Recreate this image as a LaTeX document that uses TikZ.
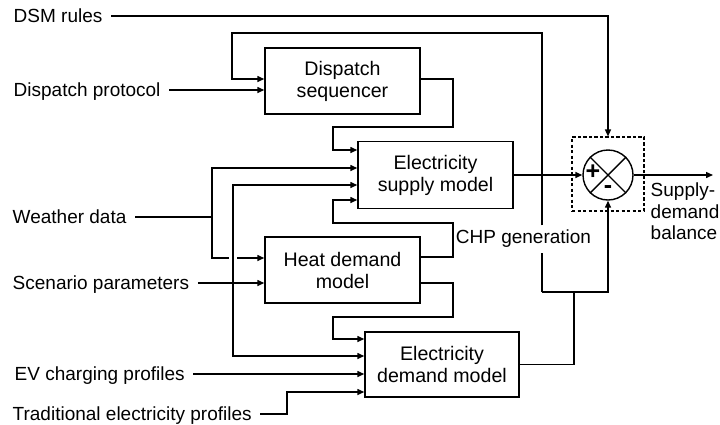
\documentclass[tikz,border=0pt]{standalone}
\usepackage{fontspec}
\setmainfont{Liberation Sans}
\usetikzlibrary{arrows.meta}
\begin{document}
\begin{tikzpicture}[x=1pt,y=-1pt,
  line width=1.4pt,
  every node/.style={font=\fontsize{19}{21.5}\selectfont},
  blk/.style={draw, align=center, minimum width=155pt, minimum height=66pt, inner sep=0pt, font=\fontsize{19.6}{22}\selectfont},
  lbl/.style={anchor=west, inner xsep=8pt, inner ysep=0pt, text height=13.7pt, text depth=0pt},
  arr/.style={-{Triangle[length=7pt,width=6pt]}},
  sign/.style={font=\fontsize{25}{25}\selectfont\bfseries, inner sep=0pt},
  dashbox/.style={draw, dash pattern=on 3.3pt off 2.2pt, line width=1.1pt, inner sep=0pt},
]
\useasboundingbox (0,0) rectangle (720,424);

% blocks
\node[blk] (seq) at (342.5,81) {Dispatch\\sequencer};
\node[blk, minimum height=67pt] (sup) at (435.5,175) {Electricity\\supply model};
\node[blk] (heat) at (342.5,270) {Heat demand\\model};
\node[blk, minimum width=154pt, minimum height=65pt] (edm) at (442,364.5) {Electricity\\demand model};

% summing junction
\node[dashbox, minimum width=72pt, minimum height=74pt] (dbox) at (608,174) {};
\node[draw, circle, minimum size=50pt, inner sep=0pt] (sum) at (608,175) {};
\draw (sum.45) -- (sum.225);
\draw (sum.135) -- (sum.315);
\node[sign] (plus) at (593,172) {+};
\node[sign] (minus) at (608,190) {-};

% input labels
\node[lbl] (dsm) at (5,16) {DSM rules};
\node[lbl] (dp) at (5,90) {Dispatch protocol};
\node[lbl] (wd) at (4,217) {Weather data};
\node[lbl] (sp) at (4,283) {Scenario parameters};
\node[lbl] (ev) at (6,374) {EV charging profiles};
\node[lbl] (tp) at (4,414) {Traditional electricity profiles};

% other labels
\node[anchor=north west, inner sep=0pt, align=left] (bal) at (650,182.5) {Supply-\\demand\\balance};
\node[inner xsep=2pt, inner ysep=4pt] (chp) at (523.5,239) {CHP generation};

% coordinates
\coordinate (chpj) at (542,292);
\coordinate (wj) at (212,217);
\coordinate (sj) at (233,283);
\coordinate (out) at (713,175);

% DSM rules
\draw[arr] (dsm.east) -| (dbox.north);
% Dispatch protocol
\draw[arr] (dp.east) -- (dp.east -| seq.west);
% demand output and CHP loop
\draw (edm.east) -| (574,292);
\draw[arr] (chpj) -| (sum.south);
\draw (chpj) -- (chpj |- chp.south);
\draw[arr] (chpj |- chp.north) -- (542,33) -- (232,33) -- (232,79) -- (seq.west |- 0,79);
% sequencer output
\draw[arr] (seq.east |- 0,79) -- (453,79) -- (453,127) -- (333,127) -- (333,150) -- (sup.west |- 0,150);
% weather data
\draw (wd.east) -- (wj);
\draw[arr] (wj) |- (sup.west |- 0,168);
\draw (wj) |- (229,258);
\draw[arr] (237,258) -- (heat.west |- 0,258);
% scenario parameters
\draw[arr] (sp.east) -- (sp.east -| heat.west);
\draw[arr] (sj) |- (sup.west |- 0,185);
\draw[arr] (sj) |- (edm.west |- 0,356);
% heat demand outputs
\draw[arr] (heat.east |- 0,257) -- (453,257) -- (453,223) -- (333,223) -- (333,200) -- (sup.west |- 0,200);
\draw[arr] (heat.east |- 0,283) -- (453,283) -- (453,317) -- (333,317) -- (333,339) -- (edm.west |- 0,339);
% EV and traditional profiles
\draw[arr] (ev.east) -- (ev.east -| edm.west);
\draw[arr] (tp.east) -| (287,392) -- (edm.west |- 0,392);
% supply to junction, junction output
\draw[arr] (sup.east) -- (sum.west);
\draw[arr] (sum.east) -- (out);
\end{tikzpicture}
\end{document}
